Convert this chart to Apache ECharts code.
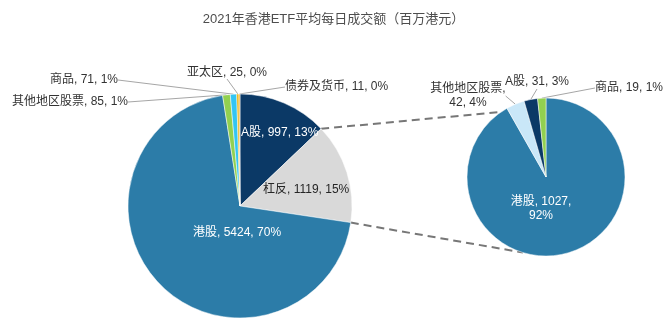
<!DOCTYPE html>
<html><head><meta charset="utf-8">
<script src="https://cdn.jsdelivr.net/npm/echarts@6/dist/echarts.min.js"></script>
<style>html,body{margin:0;padding:0;background:#fff}#c{width:667px;height:323px}</style>
</head><body><div id="c"></div>
<script>
const titleText = '2021年香港ETF平均每日成交额（百万港元）';
const leftNames = ['A股', '杠反', '港股', '其他地区股票', '商品', '亚太区', '债券及货币'];
const leftValues = [997, 1119, 5424, 85, 71, 25, 11];
const leftPercents = [13, 15, 70, 1, 1, 0, 0];
const rightNames = ['港股', '其他地区股票', 'A股', '商品'];
const rightValues = [1027, 42, 31, 19];
const rightPercents = [92, 4, 3, 1];

const leftColors = ['#0B3966', '#D9D9D9', '#2C7CA8', '#92D050', '#33C5F3', '#E8B000', '#F59A00'];
const rightColors = ['#2C7CA8', '#C9E7F8', '#0B3966', '#92D050'];

const FONT = '"Liberation Sans","Noto Sans CJK SC",sans-serif';
const L = {cx: 240, cy: 206, r: 112};
const R = {cx: 546, cy: 177, r: 79};

const leftLabelPos = [
  {x: 241, y: 133, align: 'left'}, {x: 263, y: 190, align: 'left'}, {x: 193, y: 233, align: 'left'},
  {x: 12, y: 102, align: 'left'}, {x: 118, y: 80, align: 'right'}, {x: 267, y: 73, align: 'right'},
  {x: 285, y: 87, align: 'left'}
];
const leftInside = [true, true, true, false, false, false, false];
const leftLabelColor = ['#fff', '#262626', '#fff', '#333', '#333', '#333', '#333'];
const rightLabelPos = [
  {x: 541, y: 209, align: 'center'}, {x: 468, y: 96, align: 'center'},
  {x: 537, y: 82, align: 'center'}, {x: 663, y: 88, align: 'right'}
];
const rightInside = [true, false, false, false];
const rightLabelColor = ['#fff', '#333', '#333', '#333'];

function fmtLeft(i) { return leftNames[i] + ', ' + leftValues[i] + ', ' + leftPercents[i] + '%'; }
function fmtRight(i) {
  if (i === 0) return rightNames[i] + ', ' + rightValues[i] + ',\n' + rightPercents[i] + '%';
  if (i === 1) return rightNames[i] + ',\n' + rightValues[i] + ', ' + rightPercents[i] + '%';
  return rightNames[i] + ', ' + rightValues[i] + ', ' + rightPercents[i] + '%';
}

const leftData = leftNames.map((n, i) => ({
  name: n, value: leftValues[i],
  itemStyle: {color: leftColors[i]},
  label: {position: leftInside[i] ? 'inside' : 'outside', color: leftLabelColor[i], formatter: fmtLeft(i)},
  labelLine: {show: !leftInside[i]}
}));
const rightData = rightNames.map((n, i) => ({
  name: n, value: rightValues[i],
  itemStyle: {color: rightColors[i]},
  label: {position: rightInside[i] ? 'inside' : 'outside', color: rightLabelColor[i], formatter: fmtRight(i), lineHeight: 14},
  labelLine: {show: !rightInside[i]}
}));

// connector lines computed from pie geometry
const total = leftValues.reduce((a, b) => a + b, 0);
function ptL(frac) { const t = frac * 2 * Math.PI; return [L.cx + L.r * Math.sin(t), L.cy - L.r * Math.cos(t)]; }
function ptR(deg) { const t = deg * Math.PI / 180; return [R.cx + R.r * Math.cos(t), R.cy - R.r * Math.sin(t)]; }
const p1 = ptL(leftValues[0] / total), p2 = ptL((leftValues[0] + leftValues[1]) / total);
const q1 = ptR(124.5), q2 = ptR(253);

const labelBase = {fontSize: 12, fontFamily: FONT};
const lineStyle = {color: '#A6A6A6', width: 1};

const chart = echarts.init(document.getElementById('c'));
chart.setOption({
  backgroundColor: '#fff',
  animation: false,
  title: {
    text: titleText, left: 'center', top: 8,
    textStyle: {fontSize: 13, fontWeight: 'normal', color: '#4D4D4D', fontFamily: FONT}
  },
  graphic: [
    {type: 'line', shape: {x1: p1[0], y1: p1[1], x2: q1[0], y2: q1[1]}, style: {stroke: '#777777', lineWidth: 2, lineDash: [8, 5]}},
    {type: 'line', shape: {x1: p2[0], y1: p2[1], x2: q2[0], y2: q2[1]}, style: {stroke: '#777777', lineWidth: 2, lineDash: [8, 5]}}
  ],
  series: [
    {
      type: 'pie', center: [L.cx, L.cy], radius: L.r, startAngle: 90, clockwise: true,
      avoidLabelOverlap: false,
      itemStyle: {borderColor: '#fff', borderWidth: 0.5},
      label: labelBase,
      labelLine: {lineStyle: lineStyle, length: 10, length2: 0},
      labelLayout: function (p) { const s = leftLabelPos[p.dataIndex]; return {x: s.x, y: s.y, align: s.align, verticalAlign: 'middle'}; },
      data: leftData
    },
    {
      type: 'pie', center: [R.cx, R.cy], radius: R.r, startAngle: 90, clockwise: true,
      avoidLabelOverlap: false,
      itemStyle: {borderColor: '#fff', borderWidth: 0.5},
      label: labelBase,
      labelLine: {lineStyle: lineStyle, length: 10, length2: 0},
      labelLayout: function (p) { const s = rightLabelPos[p.dataIndex]; return {x: s.x, y: s.y, align: s.align, verticalAlign: 'middle'}; },
      data: rightData
    }
  ]
});
</script>
</body></html>
